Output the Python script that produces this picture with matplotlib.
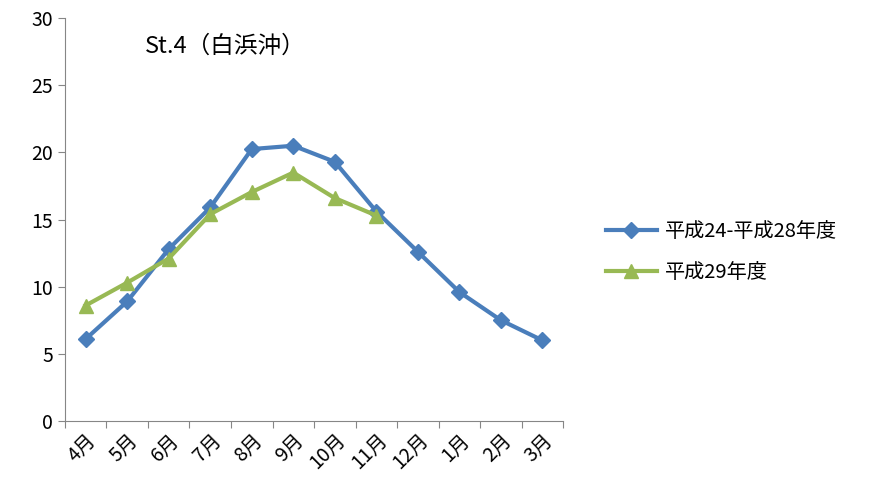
import matplotlib
matplotlib.use("Agg")
import matplotlib.pyplot as plt

plt.rcParams['font.family'] = ['Noto Sans CJK JP', 'DejaVu Sans']

months = ['4月','5月','6月','7月','8月','9月','10月','11月','12月','1月','2月','3月']
avg_24_28 = [6.1, 8.9, 12.8, 15.9, 20.25, 20.5, 19.3, 15.6, 12.6, 9.6, 7.5, 6.0]
h29 = [8.6, 10.3, 12.1, 15.4, 17.05, 18.5, 16.6, 15.3]
label_a = '平成24-平成28年度'
label_b = '平成29年度'
title = 'St.4（白浜沖）'

fig = plt.figure(figsize=(8.76, 4.91), dpi=100)
ax = fig.add_axes([0.074, 0.1426, 0.569, 0.8204])
x = list(range(len(months)))
ax.plot(x, avg_24_28, color='#4A7EBB', lw=3, marker='D', ms=8, label=label_a)
ax.plot(x[:len(h29)], h29, color='#98B954', lw=3, marker='^', ms=10, label=label_b)
ax.set_xlim(-0.5, len(months) - 0.5)
ax.set_ylim(0, 30)
ax.set_yticks(range(0, 31, 5))
ax.set_xticks([i - 0.5 for i in range(len(months) + 1)], minor=False)
ax.set_xticklabels([])
ax.set_xticks(x, minor=True)
ax.set_xticklabels(months, minor=True, rotation=45, ha='right', rotation_mode='anchor', fontsize=14)
ax.tick_params(axis='x', which='minor', length=0, pad=6)
ax.tick_params(axis='x', which='major', length=5, color='#868686')
ax.tick_params(axis='y', labelsize=14, length=5, color='#868686')
for s in ['top', 'right']:
    ax.spines[s].set_visible(False)
for s in ['left', 'bottom']:
    ax.spines[s].set_color('#868686')
ax.text(0.16, 0.93, title, transform=ax.transAxes, fontsize=17, va='center')
ax.legend(loc='center left', bbox_to_anchor=(1.05, 0.42), frameon=False, fontsize=14.5,
          handlelength=2.5, labelspacing=1.0, handletextpad=0.4)
fig.savefig('out.png', dpi=100)
